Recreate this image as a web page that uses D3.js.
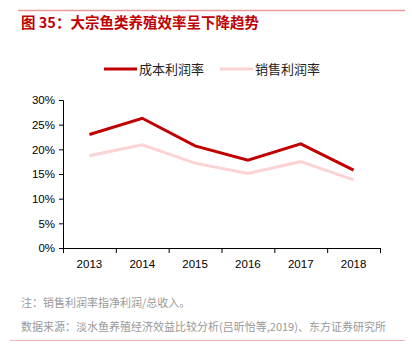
<!DOCTYPE html>
<html>
<head>
<meta charset="utf-8">
<script src="https://cdn.jsdelivr.net/npm/d3@7"></script>
<style>
  body { margin: 0; background: #fff; }
  svg text { font-family: "Liberation Sans", Arial, "Noto Sans CJK SC", sans-serif; }
</style>
</head>
<body>
<div id="wrapper"></div>
<script>
const years = ['2013', '2014', '2015', '2016', '2017', '2018']
const costMargin = [23.0, 26.3, 20.7, 17.8, 21.1, 15.8]
const salesMargin = [18.7, 20.9, 17.2, 15.1, 17.5, 13.8]
const yTicks = [0, 5, 10, 15, 20, 25, 30]
const seriesNames = ['成本利润率', '销售利润率']

const W = 412, H = 344
const cjk = '"Noto Sans CJK SC", sans-serif'

let svg = d3.select("#wrapper")
    .append("svg")
    .attr("width", W)
    .attr("height", H)

// top and bottom rules
svg.append("line")
    .attr("x1", 18).attr("x2", 405).attr("y1", 10.5).attr("y2", 10.5)
    .attr("stroke", "#e89a9a").attr("stroke-width", 1.5)
svg.append("line")
    .attr("x1", 10).attr("x2", 405).attr("y1", 340.5).attr("y2", 340.5)
    .attr("stroke", "#f0b8b8").attr("stroke-width", 1)

// title
svg.append("text")
    .attr("x", 21).attr("y", 28)
    .attr("fill", "#c00000")
    .style("font-family", cjk)
    .style("font-size", "14.5px")
    .style("font-weight", "bold")
    .text("图 35：大宗鱼类养殖效率呈下降趋势")

let x = d3.scaleBand().domain(years).range([63, 380])
let y = d3.scaleLinear().domain([0, 30]).range([248, 100])

// y axis
svg.append("g")
    .attr("transform", "translate(63,0)")
    .call(d3.axisLeft(y).tickValues(yTicks).tickSize(4).tickFormat(d => d + '%'))
    .call(g => g.selectAll("text").style("font-size", "11.5px").attr("fill", "#000").attr("dx", "-1"))
    .call(g => g.selectAll("line, path").attr("stroke", "#000"))
    .call(g => g.select(".domain").attr("d", "M-4,100.5H0.5V248"))

// x axis with ticks at band edges
let xAxis = svg.append("g").attr("transform", "translate(0,248)")
xAxis.append("line")
    .attr("x1", 63).attr("x2", 380).attr("y1", 0.5).attr("y2", 0.5)
    .attr("stroke", "#000")
xAxis.selectAll(".edge")
    .data(years.concat(['end']))
    .join("line")
    .attr("x1", (d, i) => i < years.length ? x(d) + 0.5 : 380.5)
    .attr("x2", (d, i) => i < years.length ? x(d) + 0.5 : 380.5)
    .attr("y1", 0).attr("y2", 5)
    .attr("stroke", "#000")
xAxis.selectAll("text")
    .data(years)
    .join("text")
    .attr("x", d => x(d) + x.bandwidth() / 2)
    .attr("y", 20)
    .attr("text-anchor", "middle")
    .style("font-size", "11.5px")
    .text(d => d)

// lines
let line = d3.line()
    .x((d, i) => x(years[i]) + x.bandwidth() / 2)
    .y(d => y(d))

svg.append("path")
    .datum(salesMargin)
    .attr("d", line)
    .attr("fill", "none")
    .attr("stroke", "#fbd3d3")
    .attr("stroke-width", 3)

svg.append("path")
    .datum(costMargin)
    .attr("d", line)
    .attr("fill", "none")
    .attr("stroke", "#c00000")
    .attr("stroke-width", 3)

// legend
let legend = svg.append("g")
let legendItems = [
    { name: seriesNames[0], color: "#c00000", x: 104 },
    { name: seriesNames[1], color: "#fbd3d3", x: 220 }
]
legend.selectAll("line")
    .data(legendItems)
    .join("line")
    .attr("x1", d => d.x).attr("x2", d => d.x + 33)
    .attr("y1", 69).attr("y2", 69)
    .attr("stroke", d => d.color)
    .attr("stroke-width", 3)
legend.selectAll("text")
    .data(legendItems)
    .join("text")
    .attr("x", d => d.x + 35)
    .attr("y", 73.5)
    .style("font-family", cjk)
    .style("font-size", "13px")
    .attr("fill", "#222")
    .text(d => d.name)

// notes
svg.append("text")
    .attr("x", 21).attr("y", 307)
    .style("font-family", cjk)
    .style("font-size", "11px")
    .attr("fill", "#999")
    .text("注：销售利润率指净利润/总收入。")
svg.append("text")
    .attr("x", 21).attr("y", 331)
    .style("font-family", cjk)
    .style("font-size", "11px")
    .attr("fill", "#999")
    .text("数据来源：淡水鱼养殖经济效益比较分析(吕昕怡等,2019)、东方证券研究所")
</script>
</body>
</html>
